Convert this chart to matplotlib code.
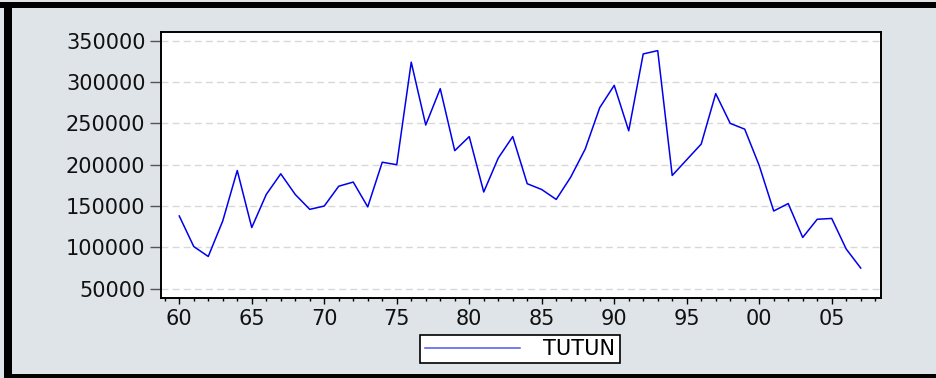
import numpy as np
import matplotlib
matplotlib.use("Agg")
import matplotlib.pyplot as plt
from matplotlib.patches import Rectangle
from matplotlib.ticker import MultipleLocator, FuncFormatter

# annual tobacco series, 1960-2007
years = np.arange(1960, 2008)
tutun = [
    138000, 101000, 89000, 132000, 193000, 124000, 164000, 189000,
    164000, 146000, 150000, 174000, 179000, 149000, 203000, 200000,
    324000, 248000, 292000, 217000, 234000, 167000, 208000, 234000,
    177000, 170000, 158000, 185000, 219000, 269000, 296000, 241000,
    334000, 338000, 187000, 206000, 225000, 286000, 250000, 243000,
    199000, 144000, 153000, 112000, 134000, 135000, 98000, 75000,
]
series_name = "TUTUN"
y_ticks = [50000, 100000, 150000, 200000, 250000, 300000, 350000]

bg = "#dfe4e8"
W, H = 937, 378

fig = plt.figure(figsize=(W / 100, H / 100), dpi=100)
fig.patch.set_facecolor(bg)

# plot area
ax = fig.add_axes([160.7 / W, 1 - 298.3 / H, (881 - 160.7) / W, (298.3 - 31.7) / H])
ax.set_facecolor("white")
ax.plot(years, tutun, color="#0000ee", linewidth=1.1, label=series_name)

ax.set_xlim(1958.72, 2008.4)
ax.set_ylim(38400, 360900)
ax.set_yticks(y_ticks)
ax.yaxis.set_major_formatter(FuncFormatter(lambda v, p: f"{int(v)}"))
ax.xaxis.set_major_locator(MultipleLocator(5))
ax.xaxis.set_minor_locator(MultipleLocator(1))
ax.xaxis.set_major_formatter(FuncFormatter(lambda v, p: f"{int(round(v)) % 100:02d}"))

ax.grid(axis="y", color="#d8d8d8", linestyle=(0, (5, 3)), linewidth=1.0)
ax.set_axisbelow(True)

for s in ax.spines.values():
    s.set_linewidth(1.4)
    s.set_color("black")

ax.tick_params(axis="y", which="major", direction="out", length=8, width=1.0,
               color="#555555", pad=3, labelsize=15)
ax.tick_params(axis="x", which="major", direction="out", length=4.5, width=1.0,
               pad=3, labelsize=15)
ax.tick_params(axis="x", which="minor", direction="out", length=2.5, width=1.0)
ax.tick_params(top=False, right=False, which="both")
for lab in ax.get_xticklabels() + ax.get_yticklabels():
    lab.set_fontfamily("DejaVu Sans")
    lab.set_color("#111111")

# legend box under the plot
leg = fig.legend(loc="center", bbox_to_anchor=(520 / W, 1 - 349 / H),
                 frameon=True, fancybox=False, framealpha=1.0,
                 facecolor="white", handlelength=4.6,
                 handletextpad=1.1, borderpad=0.2, borderaxespad=0,
                 prop={"family": "DejaVu Sans", "size": 15})
leg.get_frame().set_edgecolor("black")
leg.get_frame().set_linewidth(1.2)
leg.get_lines()[0].set_color("#5555ee")

# outer frame
tf = fig.transFigure
fig.patches.append(Rectangle((0, 1 - 8.3 / H), 1, 6.6 / H, transform=tf,
                             facecolor="black", edgecolor="none", zorder=0))
fig.patches.append(Rectangle((4 / W, 0), 8 / W, 1 - 1.7 / H, transform=tf,
                             facecolor="black", edgecolor="none", zorder=0))
fig.patches.append(Rectangle((4 / W, 0), 1, 4 / H, transform=tf,
                             facecolor="black", edgecolor="none", zorder=0))

fig.savefig("out.png", dpi=100, facecolor=bg)
